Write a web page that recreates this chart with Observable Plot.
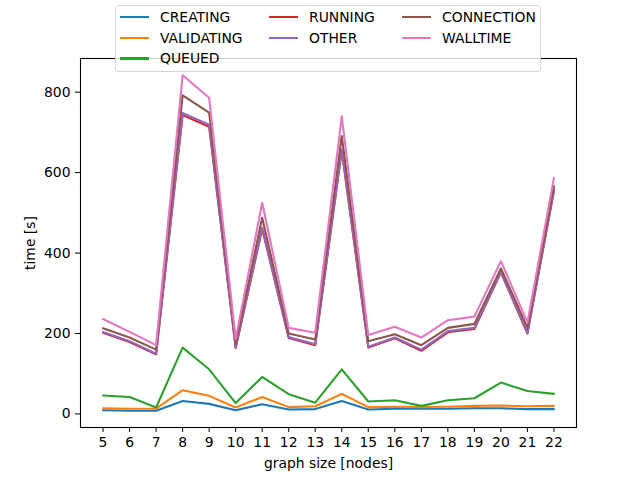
<!DOCTYPE html>
<html>
<head>
<meta charset="utf-8">
<script src="https://cdn.jsdelivr.net/npm/d3@7"></script>
<script src="https://cdn.jsdelivr.net/npm/@observablehq/plot@0.6"></script>
<style>
  html, body { margin: 0; padding: 0; background: #fff; }
  #wrap { position: relative; width: 640px; height: 480px; font-family: "DejaVu Sans", sans-serif; }
  #legend {
    position: absolute; left: 115px; top: 5px; width: 420px; height: 64px;
    border: 1px solid #d6d6d6; border-radius: 3px; background: rgba(255,255,255,0.8);
    display: grid; grid-template-rows: repeat(3, 20.6px);
    grid-template-columns: 149px 133px auto; padding: 1px 0 0 4px; box-sizing: content-box;
    font-size: 13.9px; color: #000;
  }
  .item { display: flex; align-items: center; white-space: nowrap; }
  .swatch { width: 29px; height: 2.1px; margin-right: 11px; }
</style>
</head>
<body>
<div id="wrap"></div>
<script>
const sizes = [5,6,7,8,9,10,11,12,13,14,15,16,17,18,19,20,21,22];
const seriesNames = ["CREATING","VALIDATING","QUEUED","RUNNING","OTHER","CONNECTION","WALLTIME"];
const seriesColors = ["#1f77b4","#ff7f0e","#2ca02c","#d62728","#9467bd","#8c564b","#e377c2"];
const creating   = [9, 8, 8, 32, 25, 9, 24, 11, 12, 32, 11, 13, 13, 13, 14, 14, 12, 12];
const validating = [14, 13, 13, 59, 45, 16, 42, 17, 19, 50, 17, 18, 17, 18, 20, 21, 19, 20];
const queued     = [46, 42, 16, 165, 111, 27, 92, 49, 28, 111, 31, 34, 20, 34, 39, 78, 57, 50];
const running    = [202, 179, 148, 743, 714, 164, 460, 189, 171, 655, 165, 188, 157, 203, 211, 352, 200, 555];
const other      = [204, 181, 150, 748, 719, 166, 463, 191, 173, 658, 167, 190, 160, 206, 214, 354, 202, 558];
const connection = [213, 190, 160, 792, 749, 174, 488, 200, 185, 691, 181, 198, 171, 214, 224, 362, 214, 566];
const walltime   = [236, 204, 171, 842, 786, 186, 525, 214, 202, 740, 196, 217, 190, 233, 242, 380, 227, 587];
const yTicks = [0, 200, 400, 600, 800];
const xLabel = "graph size [nodes]";
const yLabel = "time [s]";
const legendCols = 3;

const allSeries = [creating, validating, queued, running, other, connection, walltime];
const rows = [];
allSeries.forEach((vals, i) => vals.forEach((v, j) => rows.push({size: sizes[j], value: v, series: seriesNames[i]})));

const xMin = d3.min(sizes), xMax = d3.max(sizes);
const xPad = (xMax - xMin) * 0.05;
const vMin = d3.min(rows, d => d.value), vMax = d3.max(rows, d => d.value);
const yPad = (vMax - vMin) * 0.05;

const chart = Plot.plot({
  width: 640, height: 480,
  marginLeft: 80, marginRight: 64, marginTop: 58, marginBottom: 53,
  style: {fontFamily: "DejaVu Sans, sans-serif", fontSize: "13.9px", color: "#000", background: "#fff"},
  x: {domain: [xMin - xPad, xMax + xPad]},
  y: {domain: [vMin - yPad, vMax + yPad]},
  color: {domain: seriesNames, range: seriesColors},
  marks: [
    Plot.line(rows, {x: "size", y: "value", stroke: "series", z: "series", strokeWidth: 2.1, strokeLinejoin: "round"}),
    Plot.frame({stroke: "#000", strokeWidth: 1.1}),
    Plot.axisX({ticks: sizes, tickFormat: d => String(d), tickSize: 5, tickPadding: 5, label: xLabel, labelAnchor: "center", labelArrow: "none", labelOffset: 40}),
    Plot.axisY({ticks: yTicks, tickFormat: d => String(d), tickSize: 5, tickPadding: 5, label: yLabel, labelAnchor: "center", labelArrow: "none", labelOffset: 55})
  ]
});
const wrap = document.getElementById("wrap");
wrap.appendChild(chart);

// matplotlib-style column-major legend distribution (3, 2, 2)
const n = seriesNames.length;
const perCol = d3.range(legendCols).map(c => Math.floor(n / legendCols) + (c < n % legendCols ? 1 : 0));
const legend = document.createElement("div");
legend.id = "legend";
let idx = 0;
perCol.forEach((count, c) => {
  for (let r = 0; r < count; r++, idx++) {
    const it = document.createElement("div");
    it.className = "item";
    it.style.gridColumn = String(c + 1);
    it.style.gridRow = String(r + 1);
    const sw = document.createElement("span");
    sw.className = "swatch";
    sw.style.background = seriesColors[idx];
    const tx = document.createElement("span");
    tx.textContent = seriesNames[idx];
    it.appendChild(sw); it.appendChild(tx);
    legend.appendChild(it);
  }
});
wrap.appendChild(legend);
</script>
</body>
</html>
